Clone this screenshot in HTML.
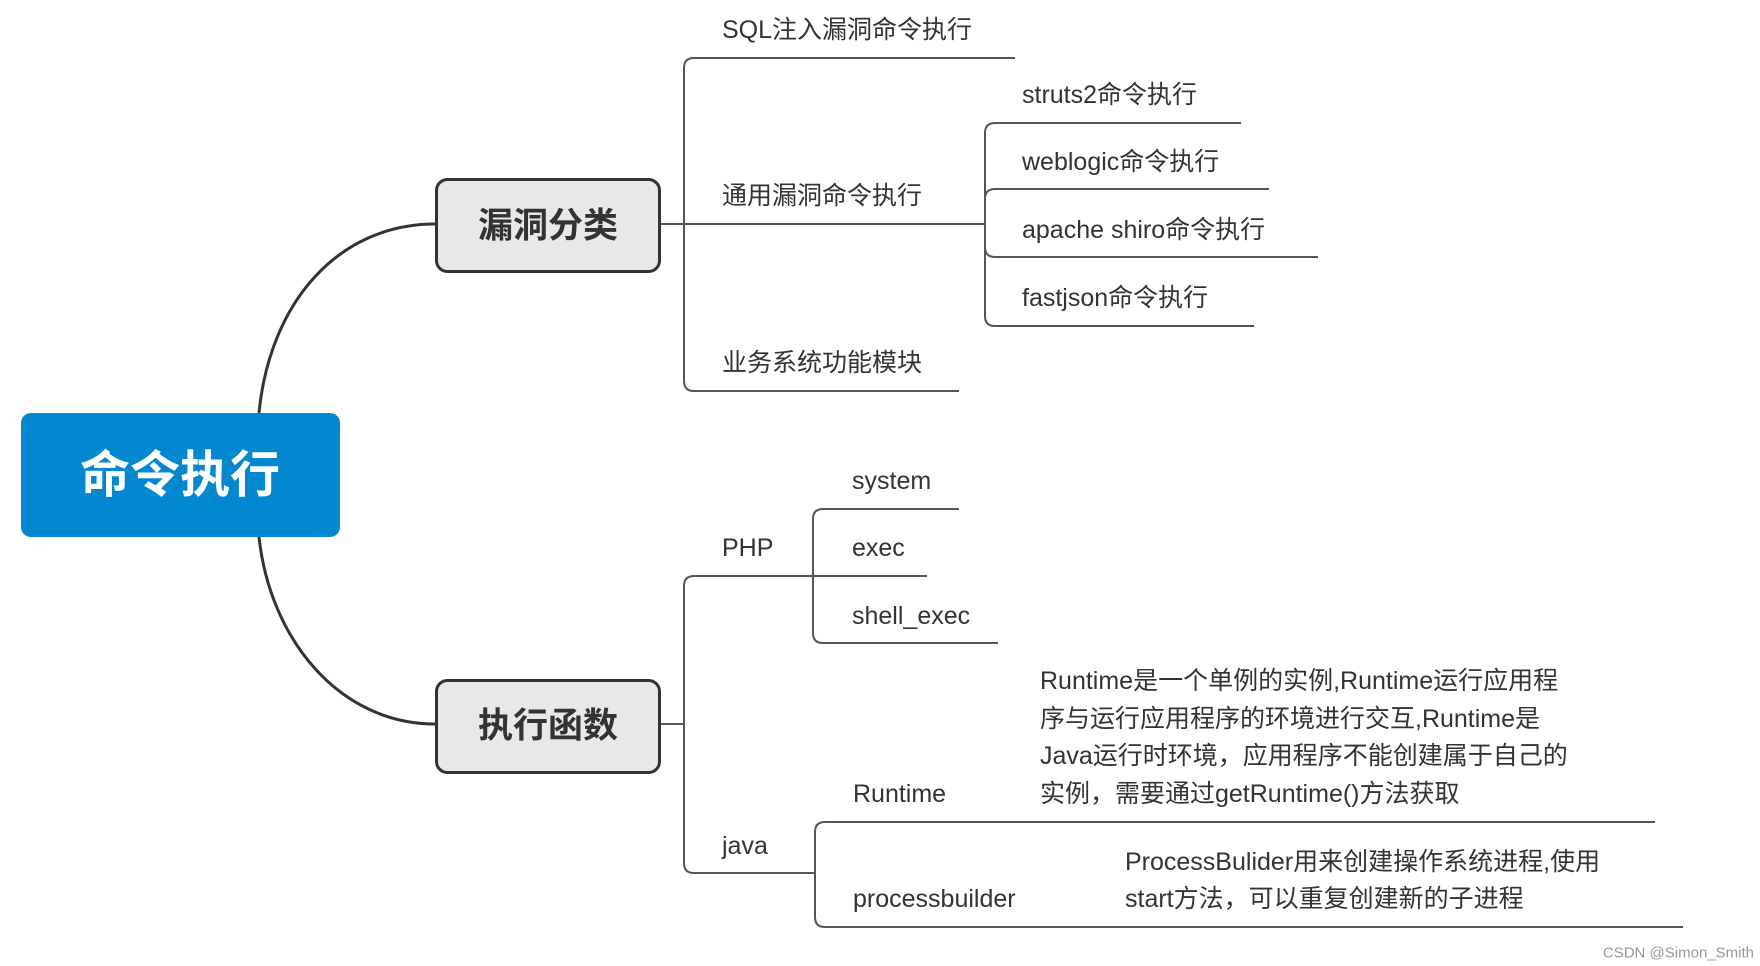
<!DOCTYPE html>
<html><head><meta charset="utf-8"><style>
html,body{margin:0;padding:0;background:#fff;}
svg{display:block;}
text{font-family:"Liberation Sans","Noto Sans CJK SC",sans-serif;fill:#333;}
</style></head><body>
<svg width="1760" height="966" viewBox="0 0 1760 966" xmlns="http://www.w3.org/2000/svg">
<g fill="none" stroke="#333" stroke-width="3">
<path d="M259 413 C270 300 340 224 435 224"/>
<path d="M259 537 C270 640 340 724 435 724"/>
</g>
<g fill="none" stroke="#555" stroke-width="2">
<!-- top group -->
<path d="M660 224 H985"/>
<path d="M1015 58 H694 Q684 58 684 68 V381 Q684 391 694 391 H959"/>
<path d="M1241 123 H995 Q985 123 985 133 V316 Q985 326 995 326 H1254"/>
<path d="M1269 189 H995 Q985 189 985 199 V247 Q985 257 995 257 H1318"/>
<!-- bottom group -->
<path d="M660 724 H684"/>
<path d="M927 576 H694 Q684 576 684 586 V863 Q684 873 694 873 H815"/>
<path d="M959 509 H823 Q813 509 813 519 V633 Q813 643 823 643 H998"/>
<path d="M1655 822 H825 Q815 822 815 832 V917 Q815 927 825 927 H1683"/>
</g>
<rect x="21" y="413" width="319" height="124" rx="10" fill="#0288d1"/>
<text x="180" y="475" text-anchor="middle" dominant-baseline="central" font-size="50" font-weight="bold" style="fill:#fff">命令执行</text>
<rect x="436.5" y="179.5" width="223" height="92" rx="11" fill="#e8e8e8" stroke="#333" stroke-width="3"/>
<text x="548" y="226" text-anchor="middle" dominant-baseline="central" font-size="35" font-weight="bold">漏洞分类</text>
<rect x="436.5" y="680.5" width="223" height="92" rx="11" fill="#e8e8e8" stroke="#333" stroke-width="3"/>
<text x="548" y="726" text-anchor="middle" dominant-baseline="central" font-size="35" font-weight="bold">执行函数</text>
<g font-size="25" dominant-baseline="central">
<text x="722" y="30">SQL注入漏洞命令执行</text>
<text x="722" y="196">通用漏洞命令执行</text>
<text x="722" y="363">业务系统功能模块</text>
<text x="1022" y="95">struts2命令执行</text>
<text x="1022" y="162">weblogic命令执行</text>
<text x="1022" y="230">apache shiro命令执行</text>
<text x="1022" y="298">fastjson命令执行</text>
<text x="722" y="548">PHP</text>
<text x="722" y="846">java</text>
<text x="852" y="481">system</text>
<text x="852" y="548">exec</text>
<text x="852" y="616">shell_exec</text>
<text x="853" y="794">Runtime</text>
<text x="1040" y="681">Runtime是一个单例的实例,Runtime运行应用程</text>
<text x="1040" y="719">序与运行应用程序的环境进行交互,Runtime是</text>
<text x="1040" y="756">Java运行时环境，应用程序不能创建属于自己的</text>
<text x="1040" y="794">实例，需要通过getRuntime()方法获取</text>
<text x="853" y="899">processbuilder</text>
<text x="1125" y="862">ProcessBulider用来创建操作系统进程,使用</text>
<text x="1125" y="899">start方法，可以重复创建新的子进程</text>
</g>
<text x="1754" y="953" text-anchor="end" dominant-baseline="central" font-size="15" style="fill:#999">CSDN @Simon_Smith</text>
</svg>
</body></html>
